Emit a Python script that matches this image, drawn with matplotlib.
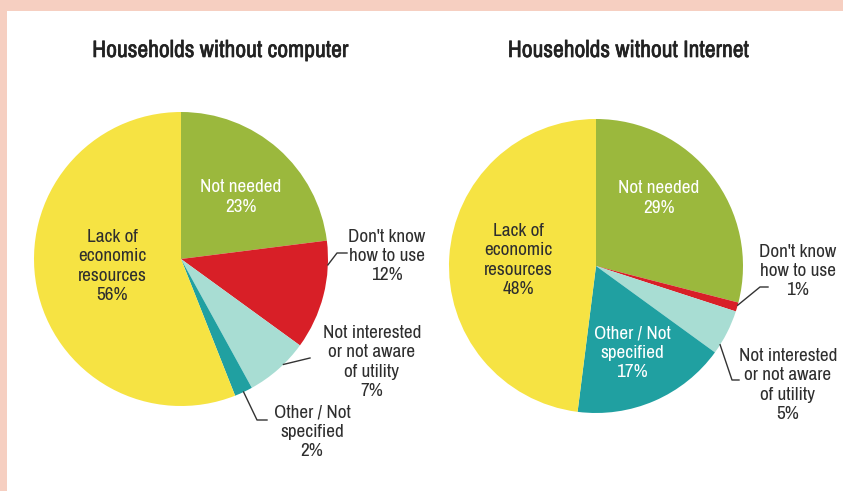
import matplotlib.pyplot as plt
import matplotlib.patheffects as pe
from matplotlib import font_manager
from matplotlib.patches import Rectangle
import numpy as np

# data
categories = ['Not needed', "Don't know how to use", 'Not interested or not aware of utility',
              'Other / Not specified', 'Lack of economic resources']
computer_pct = [23, 12, 7, 2, 56]
internet_pct = [29, 1, 5, 17, 48]
colors = ['#9BB83D', '#D81F27', '#A8DDD3', '#20A0A1', '#F6E343']

computer_labels = ['Not needed\n23%', "Don't know\nhow to use\n12%",
                   'Not interested\nor not aware\nof utility\n7%',
                   'Other / Not\nspecified\n2%', 'Lack of\neconomic\nresources\n56%']
internet_labels = ['Not needed\n29%', "Don't know\nhow to use\n1%",
                   'Not interested\nor not aware\nof utility\n5%',
                   'Other / Not\nspecified\n17%', 'Lack of\neconomic\nresources\n48%']

W, H = 843, 491
R = 147.0

# narrow font if we have one
names = set(f.name for f in font_manager.fontManager.ttflist)
wanted = ['Archivo Narrow', 'Liberation Sans Narrow', 'Roboto Condensed', 'Barlow Semi Condensed']
fam = [n for n in wanted if n in names][:1]
plt.rcParams['font.family'] = fam + ['DejaVu Sans']
if not fam:
    plt.rcParams['font.stretch'] = 'condensed'

LABEL_FS = 13.8
TEXT_C = '#2E2E2E'

fig = plt.figure(figsize=(W / 100, H / 100), dpi=100)
fig.patch.set_facecolor('#F6CFC1')
fig.patches.append(Rectangle((7 / W, 0), 1, (H - 11) / H, transform=fig.transFigure,
                             facecolor='white', edgecolor='none', zorder=-5))


def make_pie(cx, cy, values, labels, title, title_x, layout):
    half = 1.25 * R
    ax = fig.add_axes([(cx - half) / W, (H - cy - half) / H, 2 * half / W, 2 * half / H])
    ax.set_xlim(-1.25, 1.25)
    ax.set_ylim(-1.25, 1.25)
    ax.set_aspect('equal')
    ax.axis('off')
    wedges, _ = ax.pie(values, colors=colors, startangle=90, counterclock=False,
                       radius=1, wedgeprops=dict(linewidth=0))
    for i, w in enumerate(wedges):
        kind, tx, ty, color, extra = layout[i]
        x = (tx - cx) / R
        y = (cy - ty) / R
        ax.text(x, y, labels[i], ha='center', va='center', color=color,
                fontsize=LABEL_FS, linespacing=1.25, clip_on=False)
        if kind == 'lead':
            frac, pts = extra
            ang = np.deg2rad(w.theta1 + frac * (w.theta2 - w.theta1))
            xs = [np.cos(ang)] + [(p[0] - cx) / R for p in pts]
            ys = [np.sin(ang)] + [(cy - p[1]) / R for p in pts]
            ax.plot(xs, ys, color='#333333', lw=1.0, clip_on=False)
    fig.text(title_x / W, 1 - 57 / H, title, ha='center', va='baseline',
             fontsize=17, color='#222222',
             path_effects=[pe.withStroke(linewidth=0.45, foreground='#222222')])


make_pie(181, 259, computer_pct, computer_labels, 'Households without computer', 220, [
    ('in', 241, 197, 'white', None),
    ('lead', 387, 256, TEXT_C, (0.78, [(337, 253), (347, 253)])),
    ('lead', 372, 362, TEXT_C, (0.61, [(310, 358)])),
    ('lead', 312, 432, TEXT_C, (0.5, [(257, 420), (267, 420)])),
    ('in', 112, 266, TEXT_C, None),
])

make_pie(596, 266, internet_pct, internet_labels, 'Households without Internet', 628, [
    ('in', 659, 198, 'white', None),
    ('lead', 798, 271, TEXT_C, (0.7, [(760, 287), (768, 287)])),
    ('lead', 788, 385, TEXT_C, (0.2, [(732, 380), (739, 380)])),
    ('in', 632, 353, 'white', None),
    ('in', 518, 260, TEXT_C, None),
])

fig.savefig('out.png', dpi=100, facecolor=fig.get_facecolor())
